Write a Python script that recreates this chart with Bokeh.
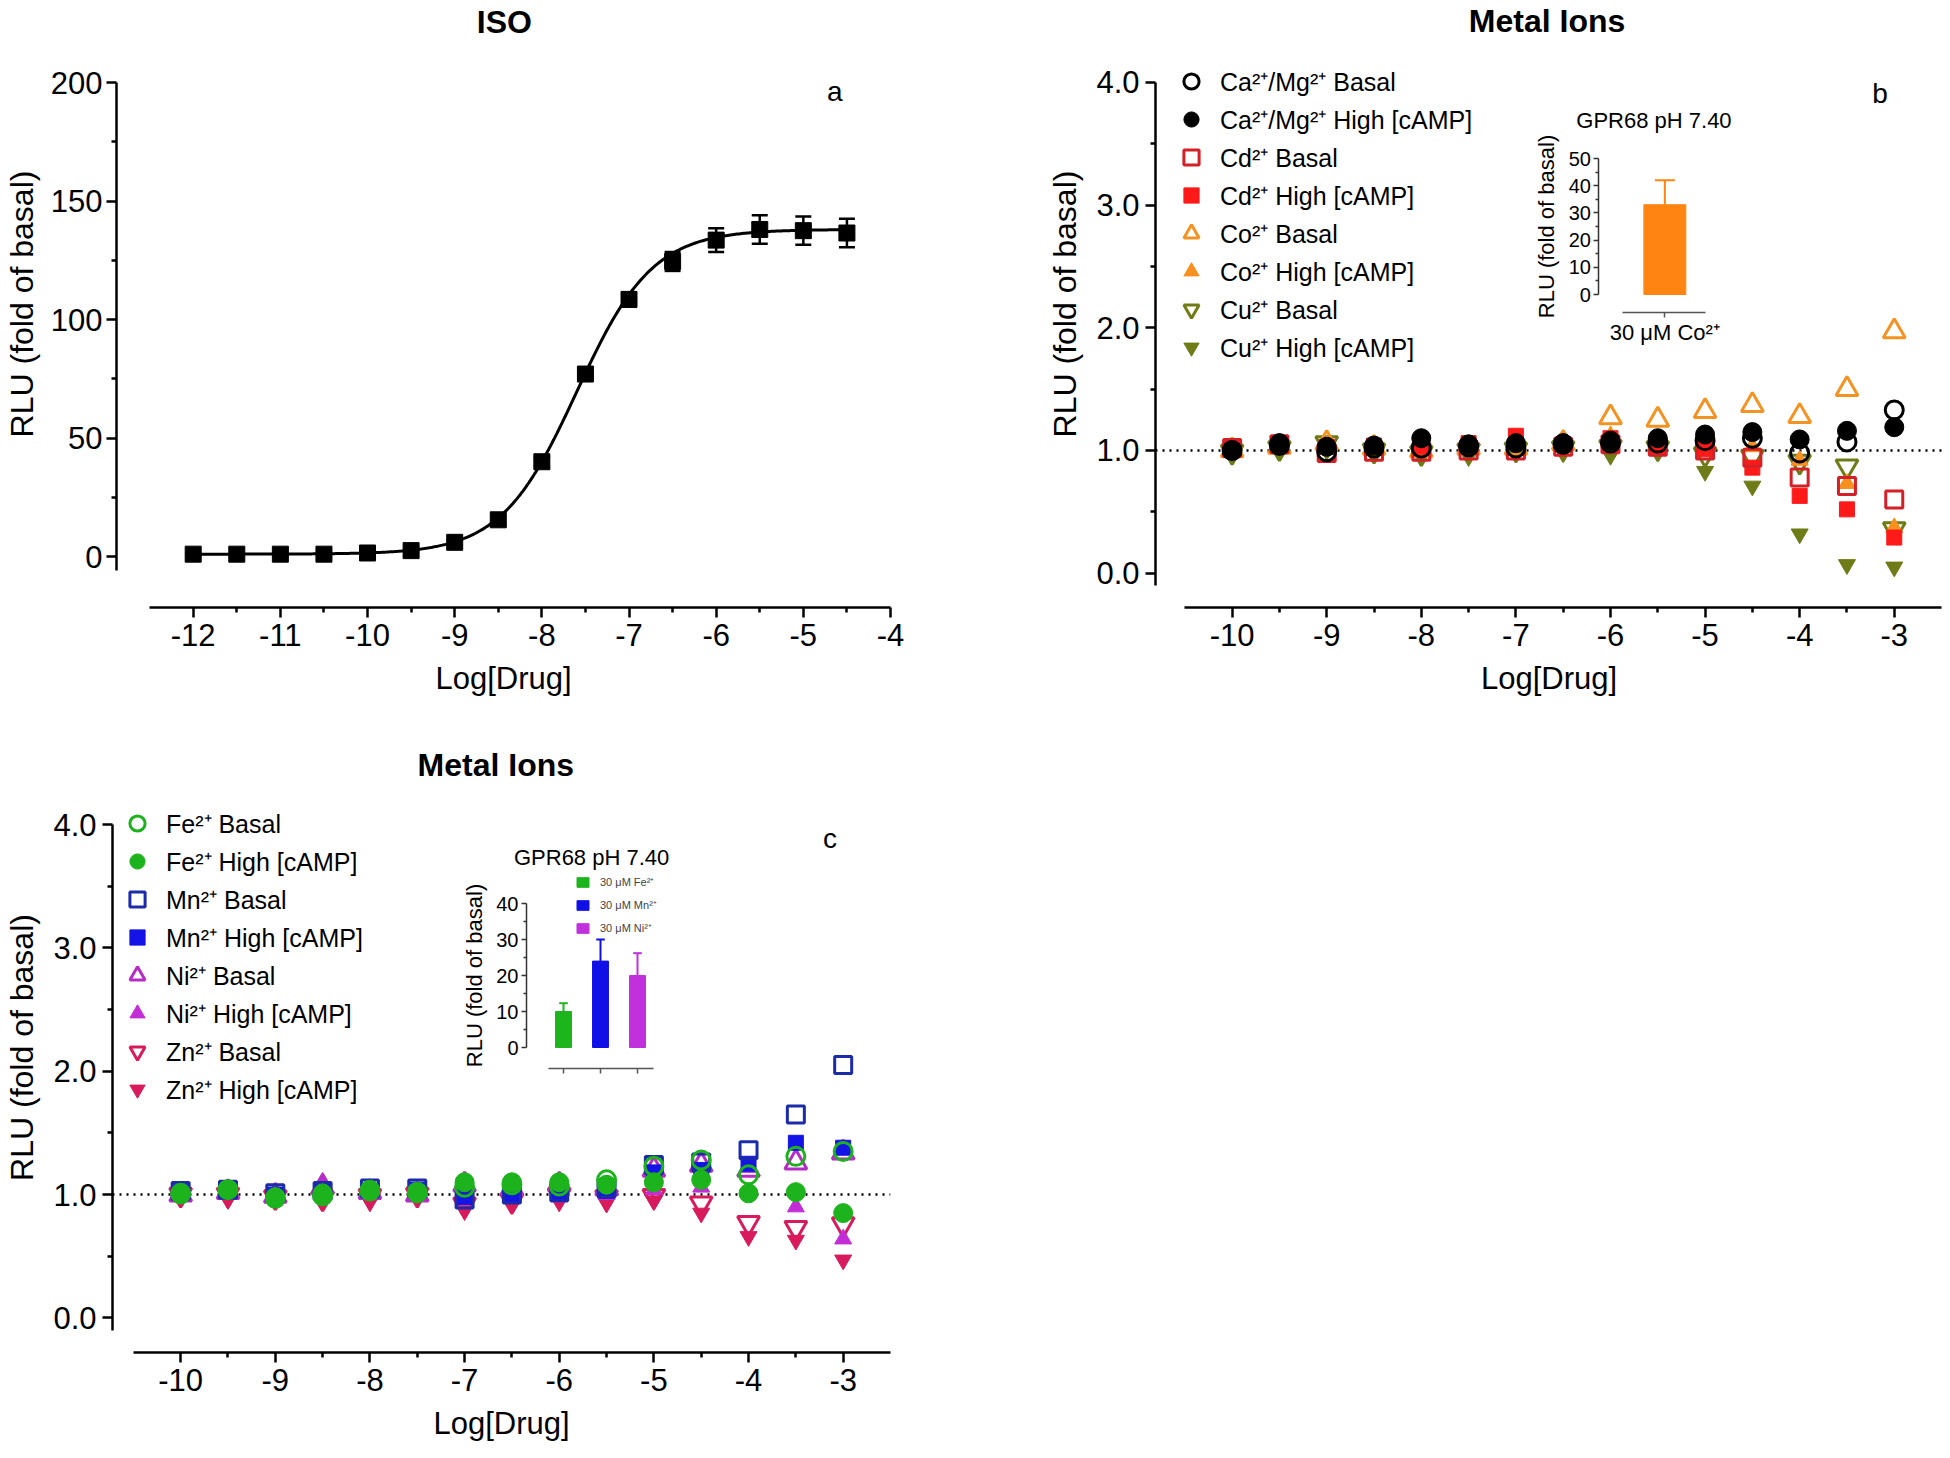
import numpy as np
from bokeh.plotting import figure
from bokeh.layouts import column, row
from bokeh.models import (Range1d, LinearAxis, FixedTicker, Legend, LegendItem,
                          Label, Whisker, TeeHead, ColumnDataSource, Span,
                          NumeralTickFormatter)
from bokeh.embed import file_html
from bokeh.resources import INLINE

FONT = "Liberation Sans"

# ---------------- data: panel a (ISO) ----------------
iso_log_conc = [-12.0, -11.5, -11.0, -10.5, -10.0, -9.5, -9.0, -8.5,
                -8.0, -7.5, -7.0, -6.5, -6.0, -5.5, -5.0, -4.5]
iso_rlu = [1.0, 1.0, 1.0, 1.0, 1.5, 2.5, 6.0, 15.5,
           40.0, 77.0, 108.5, 124.5, 133.5, 138.0, 137.5, 136.5]
iso_sem = [0.5, 0.5, 0.5, 0.5, 0.5, 0.5, 1.0, 1.5,
           2.0, 2.5, 3.0, 4.0, 5.0, 6.0, 6.0, 6.0]
iso_fit_bottom = 1.0
iso_fit_top = 138.0
iso_fit_log_ec50 = -7.6
iso_fit_hill = 1.0

# ---------------- data: panels b and c ----------------
metal_log_conc = [-10.0, -9.5, -9.0, -8.5, -8.0, -7.5, -7.0, -6.5,
                  -6.0, -5.5, -5.0, -4.5, -4.0, -3.5, -3.0]

camg_basal = [1.00, 1.04, 0.99, 1.02, 1.02, 1.03, 1.02, 1.05, 1.06, 1.06, 1.08, 1.10, 0.98, 1.07, 1.33]
camg_high  = [1.00, 1.06, 1.03, 1.04, 1.10, 1.05, 1.06, 1.06, 1.08, 1.10, 1.13, 1.15, 1.09, 1.16, 1.19]
cd_basal   = [1.02, 1.05, 0.98, 0.99, 0.99, 1.00, 1.00, 1.03, 1.05, 1.03, 1.00, 0.94, 0.78, 0.71, 0.60]
cd_high    = [1.03, 1.06, 1.03, 1.04, 1.03, 1.06, 1.12, 1.05, 1.10, 1.02, 1.01, 0.86, 0.63, 0.52, 0.29]
co_basal   = [1.00, 1.03, 1.06, 1.02, 1.00, 1.02, 1.02, 1.06, 1.27, 1.25, 1.32, 1.37, 1.28, 1.50, 1.97]
co_high    = [1.00, 1.03, 1.04, 1.02, 1.00, 1.02, 1.05, 1.09, 1.12, 1.05, 1.02, 1.03, 0.92, 0.73, 0.37]
cu_basal   = [0.99, 1.02, 1.06, 1.00, 0.98, 1.00, 1.01, 1.02, 1.03, 1.02, 0.97, 0.95, 0.91, 0.87, 0.36]
cu_high    = [0.97, 1.02, 1.00, 1.00, 0.96, 0.95, 0.98, 0.98, 0.96, 0.99, 0.83, 0.71, 0.32, 0.07, 0.05]

fe_basal = [1.01, 1.04, 0.97, 0.99, 1.03, 1.02, 1.06, 1.08, 1.07, 1.12, 1.23, 1.28, 1.16, 1.31, 1.35]
fe_high  = [1.00, 1.04, 0.98, 1.01, 1.04, 1.01, 1.10, 1.10, 1.10, 1.08, 1.10, 1.12, 1.01, 1.02, 0.85]
mn_basal = [1.03, 1.04, 1.01, 1.03, 1.05, 1.05, 0.96, 1.00, 1.02, 1.05, 1.24, 1.26, 1.36, 1.65, 2.05]
mn_high  = [1.02, 1.03, 1.00, 1.02, 1.03, 1.04, 0.98, 0.99, 1.01, 1.03, 1.18, 1.20, 1.25, 1.42, 1.38]
ni_basal = [1.00, 1.02, 0.99, 1.06, 1.02, 1.00, 1.08, 1.05, 1.08, 1.05, 1.20, 1.24, 1.20, 1.26, 1.34]
ni_high  = [1.00, 1.01, 0.99, 1.10, 1.00, 1.00, 1.00, 0.97, 0.98, 1.00, 1.04, 1.06, 1.22, 0.90, 0.64]
zn_basal = [1.00, 1.00, 0.98, 0.97, 0.99, 1.00, 0.92, 0.95, 1.00, 0.98, 0.99, 0.93, 0.77, 0.73, 0.76]
zn_high  = [0.99, 0.96, 0.97, 0.95, 0.94, 0.98, 0.87, 0.92, 0.94, 0.93, 0.95, 0.85, 0.66, 0.63, 0.47]

b_labels = ["Ca²⁺/Mg²⁺ Basal", "Ca²⁺/Mg²⁺ High [cAMP]", "Cd²⁺ Basal", "Cd²⁺ High [cAMP]",
            "Co²⁺ Basal", "Co²⁺ High [cAMP]", "Cu²⁺ Basal", "Cu²⁺ High [cAMP]"]
c_labels = ["Fe²⁺ Basal", "Fe²⁺ High [cAMP]", "Mn²⁺ Basal", "Mn²⁺ High [cAMP]",
            "Ni²⁺ Basal", "Ni²⁺ High [cAMP]", "Zn²⁺ Basal", "Zn²⁺ High [cAMP]"]
panel_titles = ["ISO", "Metal Ions", "Metal Ions"]
panel_letters = ["a", "b", "c"]

# inset data
inset_b_labels = ["30 μM Co²⁺"]
inset_b_values = [33.0]
inset_b_errors = [9.0]

inset_c_labels = ["30 μM Fe²⁺", "30 μM Mn²⁺", "30 μM Ni²⁺"]
inset_c_values = [10.0, 24.0, 20.0]
inset_c_errors = [2.3, 6.0, 6.2]
inset_title = "GPR68 pH 7.40"

# ---------------- styling helpers ----------------
def style_axis(ax, tick_px="31px", label_px="31px", lw=2.5, tick_out=10, minor_out=5):
    ax.axis_line_width = lw
    ax.axis_line_color = "black"
    ax.major_tick_line_width = lw
    ax.minor_tick_line_width = lw
    ax.major_tick_line_color = "black"
    ax.minor_tick_line_color = "black"
    ax.major_tick_out = tick_out
    ax.major_tick_in = 0
    ax.minor_tick_out = minor_out
    ax.minor_tick_in = 0
    ax.major_label_text_font = FONT
    ax.major_label_text_font_size = tick_px
    ax.major_label_text_color = "black"
    ax.axis_label_text_font = FONT
    ax.axis_label_text_font_size = label_px
    ax.axis_label_text_font_style = "normal"
    ax.axis_label_text_color = "black"


def make_fig(width, height, xr, yr, borders):
    p = figure(width=width, height=height, x_range=Range1d(*xr), y_range=Range1d(*yr),
               output_backend="svg", toolbar_location=None,
               min_border_left=borders[0], min_border_right=borders[1],
               min_border_top=borders[2], min_border_bottom=borders[3])
    p.grid.visible = False
    p.outline_line_color = None
    p.background_fill_color = "white"
    p.border_fill_color = "white"
    return p


def add_title(p, text, x, y):
    p.add_layout(Label(x=x, y=y, text=text, text_font=FONT, text_font_size="32px",
                       text_font_style="bold", text_align="center", text_baseline="middle",
                       text_color="black"))


def add_letter(p, text, x, y):
    p.add_layout(Label(x=x, y=y, text=text, text_font=FONT, text_font_size="28px",
                       text_align="center", text_baseline="middle", text_color="black"))


def half_ticks(a, b):
    return [v + 0.5 for v in range(a, b)]


# ---------------- panel a ----------------
pa = make_fig(1044, 742, (-12.88, -4.0), (-21.5, 234.6), (112, 154, 0, 135))
pa.xaxis.ticker = FixedTicker(ticks=list(range(-12, -3)), minor_ticks=half_ticks(-12, -4))
pa.xaxis.formatter = NumeralTickFormatter(format="0")
pa.xaxis.bounds = (-12.5, -4.0)
pa.yaxis.ticker = FixedTicker(ticks=[0, 50, 100, 150, 200], minor_ticks=[25, 75, 125, 175])
pa.yaxis.bounds = (-6, 200)
pa.xaxis.axis_label = "Log[Drug]"
pa.yaxis.axis_label = "RLU (fold of basal)"
for ax in pa.axis:
    style_axis(ax)
pa.yaxis.axis_label_text_font_size = "32px"
pa.xaxis.major_label_standoff = 6
pa.xaxis.axis_label_standoff = 12
pa.yaxis.major_label_standoff = 4
pa.yaxis.axis_label_standoff = 8

xfit = np.linspace(min(iso_log_conc), max(iso_log_conc), 400)
yfit = iso_fit_bottom + (iso_fit_top - iso_fit_bottom) / (1 + 10 ** ((iso_fit_log_ec50 - xfit) * iso_fit_hill))
pa.line(xfit, yfit, line_color="black", line_width=3)

iso_src = ColumnDataSource(dict(x=iso_log_conc, y=iso_rlu,
                                upper=[v + e for v, e in zip(iso_rlu, iso_sem)],
                                lower=[v - e for v, e in zip(iso_rlu, iso_sem)]))
pa.add_layout(Whisker(source=iso_src, base="x", upper="upper", lower="lower",
                      line_color="black", line_width=2.5, level="underlay",
                      upper_head=TeeHead(size=16, line_width=2.5, line_color="black"),
                      lower_head=TeeHead(size=16, line_width=2.5, line_color="black")))
pa.scatter("x", "y", source=iso_src, marker="square", size=16, color="black")
add_title(pa, panel_titles[0], -8.43, 225.7)
add_letter(pa, panel_letters[0], -4.64, 196)


# ---------------- metal panels helper ----------------
def metal_panel(p, values, labels, styles, legend_loc):
    p.xaxis.ticker = FixedTicker(ticks=list(range(-10, -2)), minor_ticks=half_ticks(-10, -3))
    p.xaxis.formatter = NumeralTickFormatter(format="0")
    p.xaxis.bounds = (-10.5, -2.5)
    p.yaxis.ticker = FixedTicker(ticks=[0, 1, 2, 3, 4], minor_ticks=[0.5, 1.5, 2.5, 3.5])
    p.yaxis.bounds = (-0.1, 4.0)
    p.yaxis.formatter = NumeralTickFormatter(format="0.0")
    p.xaxis.axis_label = "Log[Drug]"
    p.yaxis.axis_label = "RLU (fold of basal)"
    for ax in p.axis:
        style_axis(ax)
    p.yaxis.axis_label_text_font_size = "32px"
    p.xaxis.major_label_standoff = 6
    p.xaxis.axis_label_standoff = 12
    p.yaxis.major_label_standoff = 6
    p.yaxis.axis_label_standoff = 10
    p.add_layout(Span(location=1.0, dimension="width", line_color="black",
                      line_width=2.5, line_dash="2 5", level="underlay"))
    rends = [None] * len(values)
    for i in reversed(range(len(values))):
        marker, color, filled = styles[i]
        if marker == "circle":
            size = 19 if filled else 18
        elif marker == "square":
            size = 15 if filled else 17
        else:
            size = 17 if filled else 22
        if filled:
            r = p.scatter(metal_log_conc, values[i], marker=marker, size=size,
                          fill_color=color, line_color=color, line_width=1)
        else:
            r = p.scatter(metal_log_conc, values[i], marker=marker, size=size,
                          fill_color=None, line_color=color, line_width=3)
        rends[i] = r
    items = [LegendItem(label=labels[i], renderers=[rends[i]]) for i in range(len(values))]
    leg = Legend(items=items, location=legend_loc, orientation="vertical",
                 glyph_width=38, glyph_height=38, label_height=38, label_width=20,
                 label_standoff=10, spacing=0, padding=0, margin=0,
                 label_text_font=FONT, label_text_font_size="25px", label_text_color="black",
                 border_line_color=None, background_fill_alpha=0)
    p.add_layout(leg)


def extra_ranges(frame_left, frame_top, frame_w, frame_h, u_ref, u_px, u_ppu, v_ref, v_px, v_ppu):
    xs = u_ref - (u_px - frame_left) / u_ppu
    ye = v_ref + (v_px - frame_top) / v_ppu
    return Range1d(xs, xs + frame_w / u_ppu), Range1d(ye - frame_h / v_ppu, ye)


def inset_axes(p, xloc, yloc, ybounds, yticks, yminor, xbounds, xticks, xlabels, show_xlabels):
    yax = LinearAxis(x_range_name="ix", y_range_name="iy", fixed_location=xloc,
                     bounds=ybounds, ticker=FixedTicker(ticks=yticks, minor_ticks=yminor),
                     axis_label="RLU (fold of basal)")
    style_axis(yax, tick_px="20px", label_px="22px", lw=1.5, tick_out=5, minor_out=3)
    yax.axis_line_color = "#333333"
    yax.major_tick_line_color = "#333333"
    yax.minor_tick_line_color = "#333333"
    yax.major_label_standoff = 3
    yax.axis_label_standoff = 6
    p.add_layout(yax, "left")
    xax = LinearAxis(x_range_name="ix", y_range_name="iy", fixed_location=yloc,
                     bounds=xbounds, ticker=FixedTicker(ticks=xticks, minor_ticks=[]))
    style_axis(xax, tick_px="22px" if show_xlabels else "0px", label_px="22px",
               lw=1.5, tick_out=5, minor_out=0)
    xax.axis_line_color = "#555555"
    xax.major_tick_line_color = "#555555"
    xax.major_label_overrides = {t: lab for t, lab in zip(xticks, xlabels)}
    xax.major_label_standoff = 3
    p.add_layout(xax, "below")


def inset_bars(p, values, errors, colors, width):
    xs = list(range(1, len(values) + 1))
    src = ColumnDataSource(dict(x=xs, top=values, color=colors))
    r = p.vbar(x="x", top="top", bottom=0, width=width, source=src,
               fill_color="color", line_color="color", x_range_name="ix", y_range_name="iy")
    for i in range(len(values)):
        s = ColumnDataSource(dict(x=[xs[i]], lo=[values[i]], hi=[values[i] + errors[i]]))
        p.add_layout(Whisker(source=s, base="x", upper="hi", lower="lo",
                             line_color=colors[i], line_width=2,
                             x_range_name="ix", y_range_name="iy",
                             upper_head=TeeHead(size=20 * width, line_width=2, line_color=colors[i]),
                             lower_head=None))
    return r


# ---------------- panel b ----------------
pb = make_fig(898, 742, (-10.81, -2.49), (-0.28, 4.668), (110, 0, 0, 135))
b_styles = [("circle", "#000000", False), ("circle", "#000000", True),
            ("square", "#D42027", False), ("square", "#FF1A1A", True),
            ("triangle", "#F39323", False), ("triangle", "#F7901E", True),
            ("inverted_triangle", "#6E7B16", False), ("inverted_triangle", "#6E7B16", True)]
metal_panel(pb, [camg_basal, camg_high, cd_basal, cd_high, co_basal, co_high, cu_basal, cu_high],
            b_labels, b_styles, (17, 241))
add_title(pb, panel_titles[1], -6.67, 4.497)
add_letter(pb, panel_letters[1], -3.15, 3.91)

ixr, iyr = extra_ranges(1154, 0, 788, 607, 1.0, 1664, 42.0, 0.0, 294, 2.72)
pb.extra_x_ranges = {"ix": ixr}
pb.extra_y_ranges = {"iy": iyr}
inset_bars(pb, inset_b_values, inset_b_errors, ["#FF8411"], 1.0)
inset_axes(pb, -0.57, -6.6, (0, 50), [0, 10, 20, 30, 40, 50], [5, 15, 25, 35, 45],
           (0.0, 1.98), [1], inset_b_labels, True)
pb.add_layout(Label(x=0.74, y=64, text=inset_title, text_font=FONT, text_font_size="22px",
                    text_align="center", text_baseline="middle", text_color="black",
                    x_range_name="ix", y_range_name="iy"))

# ---------------- panel c ----------------
pc = make_fig(1044, 712, (-10.72, -2.5), (-0.28, 4.665), (112, 154, 0, 102))
c_styles = [("circle", "#1DB31D", False), ("circle", "#1DB31D", True),
            ("square", "#1C2BA8", False), ("square", "#1414E6", True),
            ("triangle", "#B62DC6", False), ("triangle", "#C22DD6", True),
            ("inverted_triangle", "#D81B5C", False), ("inverted_triangle", "#D81B5C", True)]
metal_panel(pc, [fe_basal, fe_high, mn_basal, mn_high, ni_basal, ni_high, zn_basal, zn_high],
            c_labels, c_styles, (6, 244))
add_title(pc, panel_titles[2], -6.67, 4.486)
add_letter(pc, panel_letters[2], -3.14, 3.89)

icx, icy = extra_ranges(112, 742, 778, 610, 1.0, 563, 37.0, 0.0, 1047, 3.6)
pc.extra_x_ranges = {"ix": icx}
pc.extra_y_ranges = {"iy": icy}
inset_c_colors = ["#1DB51D", "#1010E6", "#C030DD"]
rc = inset_bars(pc, inset_c_values, inset_c_errors, inset_c_colors, 0.43)
inset_axes(pc, 0.0, -5.83, (0, 40), [0, 10, 20, 30, 40], [5, 15, 25, 35],
           (0.59, 3.43), [1, 2, 3], ["", "", ""], False)
pc.add_layout(Label(x=1.76, y=52.8, text=inset_title, text_font=FONT, text_font_size="22px",
                    text_align="center", text_baseline="middle", text_color="black",
                    x_range_name="ix", y_range_name="iy"))
leg_c = Legend(items=[LegendItem(label=inset_c_labels[i], renderers=[rc], index=i)
                      for i in range(len(inset_c_labels))],
               location=(463, 417), orientation="vertical",
               glyph_width=15, glyph_height=12, label_height=12, label_width=10,
               label_standoff=10, spacing=8, padding=0, margin=0,
               label_text_font=FONT, label_text_font_size="11px", label_text_color="#444444",
               border_line_color=None, background_fill_alpha=0)
pc.add_layout(leg_c)

layout = column(row(pa, pb), pc)
open("out.html", "w").write(file_html(layout, INLINE))
